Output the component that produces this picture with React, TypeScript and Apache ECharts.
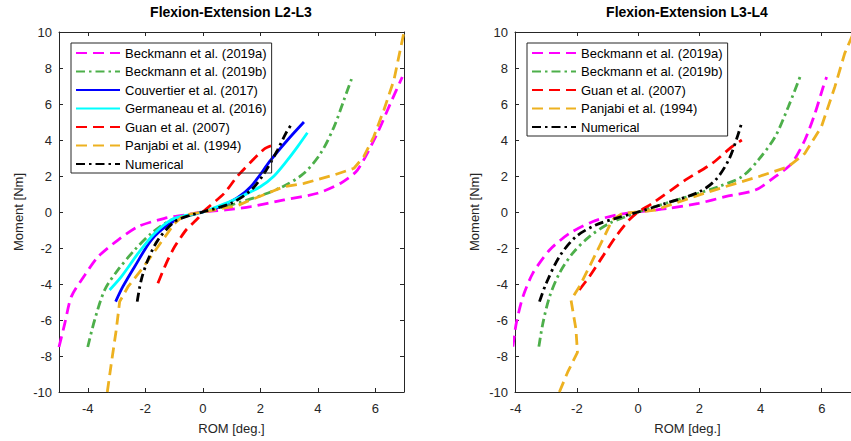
import React, { useEffect, useRef } from "react";
import * as echarts from "echarts";

// ---- Data: Flexion-Extension L2-L3 ----
const l23BeckA_x = [-5.0, -4.8, -4.57, -4.1, -3.64, -2.95, -2.25, -1.33, -0.64, 0, 0.8, 1.67, 2.83, 3.99, 4.8, 5.38, 6.07, 6.53, 6.94];
const l23BeckA_y = [-7.5, -6.2, -4.7, -3.5, -2.48, -1.56, -0.81, -0.35, -0.17, 0, 0.12, 0.3, 0.67, 1.04, 1.6, 2.33, 4.37, 6.04, 7.5];
const l23BeckB_x = [-4.0, -3.76, -3.41, -2.95, -2.37, -1.79, -1.1, -0.41, 0, 1.0, 2.0, 2.83, 3.52, 4.1, 4.57, 4.91, 5.2];
const l23BeckB_y = [-7.5, -6.0, -4.33, -3.22, -2.11, -1.19, -0.44, -0.17, 0, 0.4, 0.9, 1.45, 2.15, 3.26, 4.74, 6.22, 7.5];
const l23Couv_x = [-3.03, -2.78, -2.37, -1.79, -1.21, -0.64, 0, 0.52, 1.21, 1.67, 2.37, 2.95, 3.52];
const l23Couv_y = [-4.98, -4.15, -3.04, -1.56, -0.72, -0.26, 0, 0.25, 0.8, 1.4, 2.89, 4.0, 5.0];
const l23Germ_x = [-3.24, -2.83, -2.25, -1.68, -1.1, -0.52, 0, 0.75, 1.44, 2.0, 2.48, 2.95, 3.3, 3.64];
const l23Germ_y = [-4.33, -3.59, -2.3, -1.19, -0.44, -0.17, 0, 0.45, 0.95, 1.4, 2.0, 2.89, 3.63, 4.4];
const l23Guan_x = [-1.56, -1.27, -0.98, -0.58, -0.17, 0, 0.75, 1.21, 2.14, 2.57];
const l23Guan_y = [-3.96, -2.85, -1.93, -1.0, -0.35, 0, 1.04, 2.0, 3.5, 3.8];
const l23Panj_x = [-3.32, -3.18, -3.01, -2.89, -2.6, -2.14, -1.56, -0.98, -0.64, 0, 1.2, 1.67, 2.83, 3.52, 4.57, 5.26, 5.6, 5.95, 6.3, 6.65, 7.0];
const l23Panj_y = [-10, -8.41, -6.56, -4.98, -4.15, -3.22, -1.93, -0.63, -0.17, 0, 0.35, 0.67, 1.41, 1.59, 2.06, 2.43, 3.07, 4.19, 5.67, 7.33, 10];
const l23Num_x = [-2.28, -2.14, -1.91, -1.56, -0.98, -0.41, 0, 0.98, 1.67, 2.14, 2.6, 2.89, 3.12];
const l23Num_y = [-4.98, -3.78, -2.67, -1.56, -0.54, -0.17, 0, 0.48, 1.2, 2.15, 3.44, 4.37, 4.96];

// ---- Data: Flexion-Extension L3-L4 ----
const l34BeckA_x = [-4.09, -3.98, -3.76, -3.44, -2.89, -2.24, -1.49, -0.73, 0, 1.0, 1.98, 2.85, 3.83, 4.48, 5.02, 5.45, 5.78, 6.05, 6.16];
const l34BeckA_y = [-7.48, -6.19, -4.7, -3.41, -2.11, -1.19, -0.54, -0.17, 0, 0.2, 0.48, 0.85, 1.22, 1.96, 2.7, 4.0, 5.48, 6.96, 7.5];
const l34BeckB_x = [-3.24, -3.11, -2.89, -2.57, -2.14, -1.59, -0.94, -0.4, 0, 1.44, 1.98, 2.63, 3.39, 3.93, 4.48, 4.91, 5.29];
const l34BeckB_y = [-7.48, -6.19, -4.7, -3.41, -2.3, -1.37, -0.63, -0.26, 0, 0.76, 1.04, 1.41, 1.96, 2.89, 4.19, 5.85, 7.5];
const l34Guan_x = [-1.92, -1.59, -1.16, -0.73, -0.29, 0, 0.47, 1.55, 2.42, 3.07, 3.39];
const l34Guan_y = [-4.33, -3.59, -2.48, -1.37, -0.44, 0, 0.48, 1.78, 2.7, 3.63, 4.0];
const l34Panj_x = [-2.57, -2.3, -1.98, -2.03, -2.19, -1.92, -1.59, -1.16, -0.84, -0.51, 0, 0.57, 1.98, 2.85, 3.93, 4.91, 5.45, 5.99, 6.43, 6.75, 7.05];
const l34Panj_y = [-10, -8.9, -7.8, -6.5, -4.89, -4.15, -3.04, -1.56, -0.44, -0.07, 0, 0.11, 0.94, 1.41, 1.96, 2.52, 3.26, 4.74, 6.96, 8.81, 10];
const l34Num_x = [-3.22, -3.0, -2.57, -2.03, -1.38, -0.73, 0, 0.9, 1.98, 2.53, 2.96, 3.28, 3.39];
const l34Num_y = [-4.98, -3.96, -2.48, -1.37, -0.72, -0.35, 0, 0.48, 1.1, 1.78, 2.89, 4.37, 5.0];

const titles = ["Flexion-Extension L2-L3", "Flexion-Extension L3-L4"];
const xName = "ROM [deg.]";
const yName = "Moment [Nm]";

const NAMES = {
  beckA: "Beckmann et al. (2019a)",
  beckB: "Beckmann et al. (2019b)",
  couv: "Couvertier et al. (2017)",
  germ: "Germaneau et al. (2016)",
  guan: "Guan et al. (2007)",
  panj: "Panjabi et al. (1994)",
  num: "Numerical",
};

const FONT = "'Liberation Sans', Arial, Helvetica, sans-serif";
const AX = "#262626";
const DASH = [11, 6];
const DASHDOT = [9, 4, 2.5, 4];

const STYLE: Record<string, { color: string; type: any; smooth: number }> = {
  beckA: { color: "#ff00ff", type: DASH, smooth: 0.25 },
  beckB: { color: "#4daf4a", type: DASHDOT, smooth: 0.3 },
  couv: { color: "#0000ff", type: "solid", smooth: 0.3 },
  germ: { color: "#00ffff", type: "solid", smooth: 0.3 },
  guan: { color: "#ff0000", type: DASH, smooth: 0.2 },
  panj: { color: "#edb120", type: DASH, smooth: 0 },
  num: { color: "#000000", type: DASHDOT, smooth: 0.3 },
};

const zip = (xs: number[], ys: number[]) => xs.map((x, i) => [x, ys[i]]);

function mkSeries(key: string, xs: number[], ys: number[], idx: number) {
  const s = STYLE[key];
  return {
    type: "line",
    name: (NAMES as any)[key],
    xAxisIndex: idx * 2,
    yAxisIndex: idx * 2,
    data: zip(xs, ys),
    symbol: "none",
    smooth: s.smooth,
    clip: true,
    color: s.color,
    itemStyle: { color: s.color },
    lineStyle: { color: s.color, width: 2.8, type: s.type, cap: "butt" },
  };
}

function xAxes(grid: number, min: number, max: number, hideMin: boolean) {
  const base: any = {
    type: "value",
    gridIndex: grid,
    min,
    max,
    splitNumber: 6,
    splitLine: { show: false },
    axisLine: { show: true, onZero: false, lineStyle: { color: AX, width: 1 } },
    axisTick: { show: true, inside: true, length: 4, lineStyle: { color: AX } },
  };
  return [
    {
      ...base,
      position: "bottom",
      name: xName,
      nameLocation: "middle",
      nameGap: 30,
      nameTextStyle: { fontSize: 13, color: AX, fontFamily: FONT },
      axisLabel: {
        show: true, fontSize: 13, color: AX, fontFamily: FONT, margin: 10,
        showMinLabel: !hideMin, showMaxLabel: false,
        formatter: (v: number) => (Math.abs(v - Math.round(v)) < 1e-6 && Math.round(v) % 2 === 0 ? String(Math.round(v)) : ""),
      },
    },
    { ...base, position: "top", axisLabel: { show: false } },
  ];
}

function yAxes(grid: number) {
  const base: any = {
    type: "value",
    gridIndex: grid,
    min: -10,
    max: 10,
    interval: 2,
    splitLine: { show: false },
    axisLine: { show: true, onZero: false, lineStyle: { color: AX, width: 1 } },
    axisTick: { show: true, inside: true, length: 4, lineStyle: { color: AX } },
  };
  return [
    {
      ...base,
      position: "left",
      name: yName,
      nameLocation: "middle",
      nameGap: 34,
      nameTextStyle: { fontSize: 13, color: AX, fontFamily: FONT },
      axisLabel: { show: true, fontSize: 13, color: AX, fontFamily: FONT, margin: 7 },
    },
    { ...base, position: "right", axisLabel: { show: false } },
  ];
}

function mkLegend(left: number, keys: string[]) {
  return {
    left,
    top: 43,
    orient: "vertical",
    data: keys.map((k) => (NAMES as any)[k]),
    itemWidth: 44,
    itemHeight: 13,
    itemGap: 5.5,
    padding: [3.5, 5, 2.5, 4],
    borderColor: AX,
    borderWidth: 1,
    backgroundColor: "transparent",
    selectedMode: false,
    itemStyle: { opacity: 0 },
    textStyle: { fontSize: 13, color: "#000", fontFamily: FONT, lineHeight: 13 },
    z: 10,
  };
}

export default function App() {
  const ref = useRef<HTMLDivElement>(null);
  useEffect(() => {
    if (!ref.current) return;
    const chart = echarts.init(ref.current, undefined, { renderer: "svg" });
    const option: any = {
      animation: false,
      backgroundColor: "#ffffff",
      textStyle: { fontFamily: FONT },
      title: [
        { text: titles[0], left: 231, top: 5, textAlign: "center", padding: 0, textStyle: { fontSize: 14, fontWeight: "bold", color: "#000", fontFamily: FONT } },
        { text: titles[1], left: 687, top: 5, textAlign: "center", padding: 0, textStyle: { fontSize: 14, fontWeight: "bold", color: "#000", fontFamily: FONT } },
      ],
      grid: [
        { left: 59, top: 32, width: 345, height: 360, containLabel: false },
        { left: 515, top: 32, width: 345, height: 360, containLabel: false },
      ],
      xAxis: [...xAxes(0, -5, 7, true), ...xAxes(1, -4.02, 7.25, false)],
      yAxis: [...yAxes(0), ...yAxes(1)],
      legend: [
        mkLegend(71, ["beckA", "beckB", "couv", "germ", "guan", "panj", "num"]),
        mkLegend(527, ["beckA", "beckB", "guan", "panj", "num"]),
      ],
      series: [
        mkSeries("beckA", l23BeckA_x, l23BeckA_y, 0),
        mkSeries("beckB", l23BeckB_x, l23BeckB_y, 0),
        mkSeries("couv", l23Couv_x, l23Couv_y, 0),
        mkSeries("germ", l23Germ_x, l23Germ_y, 0),
        mkSeries("guan", l23Guan_x, l23Guan_y, 0),
        mkSeries("panj", l23Panj_x, l23Panj_y, 0),
        mkSeries("num", l23Num_x, l23Num_y, 0),
        mkSeries("beckA", l34BeckA_x, l34BeckA_y, 1),
        mkSeries("beckB", l34BeckB_x, l34BeckB_y, 1),
        mkSeries("guan", l34Guan_x, l34Guan_y, 1),
        mkSeries("panj", l34Panj_x, l34Panj_y, 1),
        mkSeries("num", l34Num_x, l34Num_y, 1),
      ],
    };
    chart.setOption(option);
    return () => chart.dispose();
  }, []);
  return (
    <div style={{ position: "absolute", left: 0, top: 0, width: 851, height: 441, overflow: "hidden", background: "#fff" }}>
      <div ref={ref} style={{ width: 862, height: 441 }} />
    </div>
  );
}
